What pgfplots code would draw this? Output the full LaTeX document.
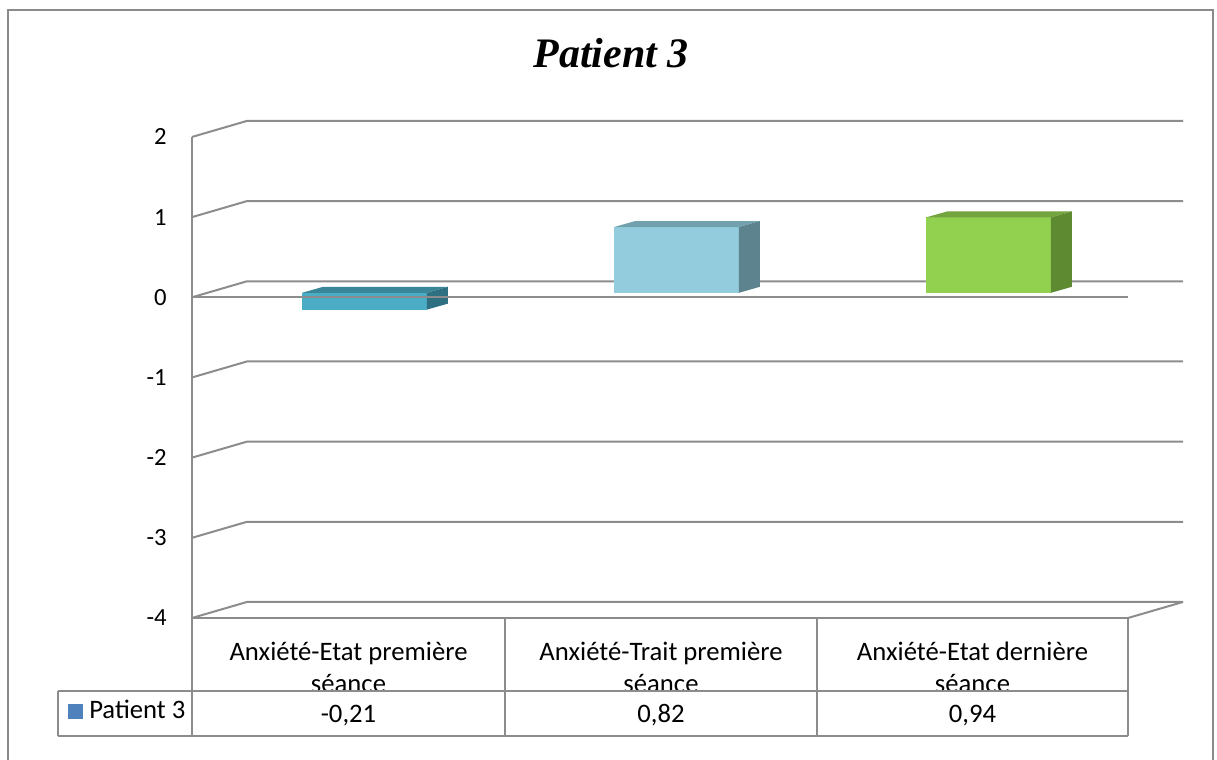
\documentclass[border=0pt]{standalone}
\usepackage{pgfplots}
\pgfplotsset{compat=1.18}
\usepackage{fontspec}
\setmainfont{Carlito}
\newfontfamily\titlefont{Liberation Serif}
\definecolor{gridc}{HTML}{8C8C8C}
\definecolor{frame}{HTML}{8A8A8A}
\definecolor{aF}{HTML}{4BACC6}
\definecolor{aT}{HTML}{3A8698}
\definecolor{aS}{HTML}{2E7081}
\definecolor{bF}{HTML}{93CDDD}
\definecolor{bT}{HTML}{72A1AE}
\definecolor{bS}{HTML}{5D838F}
\definecolor{cF}{HTML}{92D050}
\definecolor{cT}{HTML}{74A43E}
\definecolor{cS}{HTML}{5E8A32}
\definecolor{legc}{HTML}{4F81BD}
\begin{document}
\begin{tikzpicture}
\path[use as bounding box] (0,0) rectangle (912.75pt,570pt);
% walls, gridlines and tick labels
\begin{axis}[at={(144pt,106.5pt)}, anchor=south west,
  x=234pt, y=60.13pt,
  xmin=0, xmax=3.1763, ymin=-4, ymax=2.2,
  axis line style={draw=none}, xtick=\empty,
  ytick={-4,-3,-2,-1,0,1,2}, tick style={draw=none},
  /pgf/number format/assume math mode=true,
  yticklabel={\fontsize{18.5}{22}\selectfont\pgfmathprintnumber{\tick}},
  yticklabel style={anchor=east, inner sep=0pt, xshift=-18.75pt},
  clip=false]
\draw[gridc, line width=1.5pt] (axis cs:0,-4) -- (axis cs:0.1763,-3.8) -- (axis cs:3.1763,-3.8);
\draw[gridc, line width=1.5pt] (axis cs:0,-3) -- (axis cs:0.1763,-2.8) -- (axis cs:3.1763,-2.8);
\draw[gridc, line width=1.5pt] (axis cs:0,-2) -- (axis cs:0.1763,-1.8) -- (axis cs:3.1763,-1.8);
\draw[gridc, line width=1.5pt] (axis cs:0,-1) -- (axis cs:0.1763,-0.8) -- (axis cs:3.1763,-0.8);
\draw[gridc, line width=1.5pt] (axis cs:0,0) -- (axis cs:0.1763,0.2) -- (axis cs:3.1763,0.2);
\draw[gridc, line width=1.5pt] (axis cs:0,1) -- (axis cs:0.1763,1.2) -- (axis cs:3.1763,1.2);
\draw[gridc, line width=1.5pt] (axis cs:0,2) -- (axis cs:0.1763,2.2) -- (axis cs:3.1763,2.2);
\draw[gridc, line width=1.5pt] (axis cs:3,-4) -- (axis cs:3.1763,-3.8);
\end{axis}
% bars (placed in the middle depth plane)
\begin{axis}[at={(156.375pt,109.875pt)}, anchor=south west,
  x=234pt, y=60.13pt,
  xmin=0, xmax=3.1763, ymin=-4, ymax=2.2,
  hide axis, clip=false]
\addplot[ybar, bar width=0.4, bar shift=0pt, fill=aF, draw=none] coordinates {(0.5,-0.21)};
\addplot[fill=aT, draw=none] coordinates {(0.3,0) (0.7,0) (0.7673,0.0748) (0.3673,0.0748)} --cycle;
\addplot[fill=aS, draw=none] coordinates {(0.7,0) (0.7,-0.21) (0.7673,-0.1352) (0.7673,0.0748)} --cycle;
\addplot[ybar, bar width=0.4, bar shift=0pt, fill=bF, draw=none] coordinates {(1.5,0.82)};
\addplot[fill=bT, draw=none] coordinates {(1.3,0.82) (1.7,0.82) (1.7673,0.8948) (1.3673,0.8948)} --cycle;
\addplot[fill=bS, draw=none] coordinates {(1.7,0) (1.7,0.82) (1.7673,0.8948) (1.7673,0.0748)} --cycle;
\addplot[ybar, bar width=0.4, bar shift=0pt, fill=cF, draw=none] coordinates {(2.5,0.94)};
\addplot[fill=cT, draw=none] coordinates {(2.3,0.94) (2.7,0.94) (2.7673,1.0148) (2.3673,1.0148)} --cycle;
\addplot[fill=cS, draw=none] coordinates {(2.7,0) (2.7,0.94) (2.7673,1.0148) (2.7673,0.0748)} --cycle;
\end{axis}
% front lines, data table, title and frame (pixel coordinates)
\begin{scope}[x=0.75pt, y=-0.75pt, yshift=570pt]
\draw[gridc, line width=1.5pt] (192,297.3) -- (1128,297.3);
\draw[gridc, line width=1.5pt] (192,137) -- (192,736);
\draw[gridc, line width=1.5pt] (192,618) -- (1128,618);
\draw[gridc, line width=1.5pt] (58,691) -- (1128,691);
\draw[gridc, line width=1.5pt] (58,736) -- (1128,736);
\draw[gridc, line width=1.5pt] (58,691) -- (58,736);
\draw[gridc, line width=1.5pt] (505,618) -- (505,736);
\draw[gridc, line width=1.5pt] (817,618) -- (817,736);
\draw[gridc, line width=1.5pt] (1128,618) -- (1128,736);
\begin{scope}
\clip (193,619) rectangle (1127,690);
\node[font=\fontsize{20}{24}\selectfont, anchor=base] at (348.5,661) {Anxiété-Etat première};
\node[font=\fontsize{20}{24}\selectfont, anchor=base] at (348.5,693) {séance};
\node[font=\fontsize{20}{24}\selectfont, anchor=base] at (661,661) {Anxiété-Trait première};
\node[font=\fontsize{20}{24}\selectfont, anchor=base] at (661,693) {séance};
\node[font=\fontsize{20}{24}\selectfont, anchor=base] at (972.5,661) {Anxiété-Etat dernière};
\node[font=\fontsize{20}{24}\selectfont, anchor=base] at (972.5,693) {séance};
\end{scope}
\node[font=\fontsize{20}{24}\selectfont, anchor=base] at (348.5,723) {-0,21};
\node[font=\fontsize{20}{24}\selectfont, anchor=base] at (661,723) {0,82};
\node[font=\fontsize{20}{24}\selectfont, anchor=base] at (972.5,723) {0,94};
\fill[legc] (68,704) rectangle (83,719);
\node[font=\fontsize{20}{24}\selectfont, anchor=base west, inner sep=0pt] at (89,719) {Patient 3};
\node[font=\fontsize{31.5}{36}\selectfont\titlefont\bfseries\itshape, anchor=base] at (611,68) {Patient 3};
\draw[frame, line width=1.5pt] (8,775) -- (8,10) -- (1213,10) -- (1213,775);
\end{scope}
\end{tikzpicture}
\end{document}
